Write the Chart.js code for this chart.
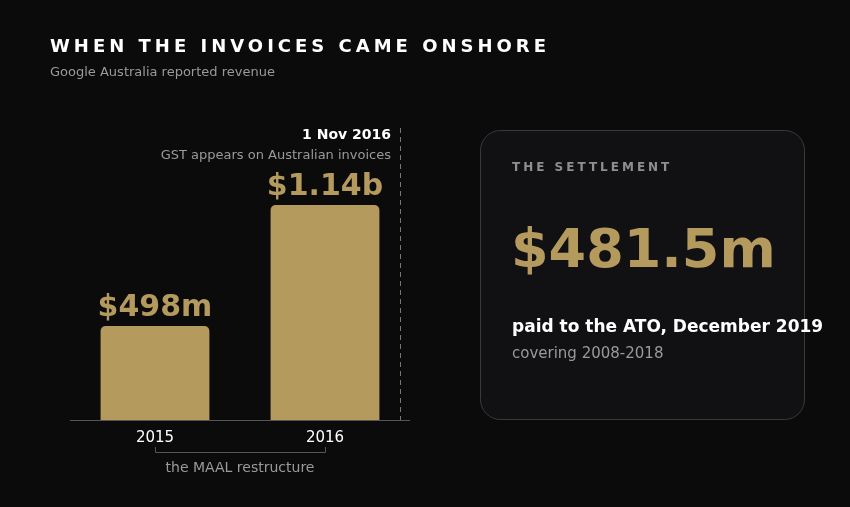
<!DOCTYPE html>
<html><head><meta charset="utf-8">
<script src="https://cdn.jsdelivr.net/npm/chart.js@4"></script>
<style>html,body{margin:0;background:#0b0b0b;}#w{width:850px;height:507px;position:relative}</style>
</head><body><div id="w"><canvas id="c"></canvas></div>
<script>
const categories = ["2015", "2016"];
const revenue = [498, 1140];
const valueLabels = ["$498m", "$1.14b"];
const gold = "#b59a5e";
const F = "'DejaVu Sans', sans-serif";

const overlay = {
  id: "overlay",
  afterDatasetsDraw(chart) {
    const ctx = chart.ctx, a = chart.chartArea, x = chart.scales.x;
    const meta = chart.getDatasetMeta(0);
    ctx.save();
    // title
    ctx.textBaseline = "alphabetic";
    ctx.fillStyle = "#ffffff";
    ctx.font = "bold 18px " + F;
    ctx.letterSpacing = "4px";
    ctx.textAlign = "left";
    ctx.fillText("WHEN THE INVOICES CAME ONSHORE", 50, 52);
    ctx.letterSpacing = "0px";
    ctx.fillStyle = "#9a9a9a";
    ctx.font = "13px " + F;
    ctx.fillText("Google Australia reported revenue", 50, 76);
    // axis line
    ctx.strokeStyle = "#555";
    ctx.lineWidth = 1;
    ctx.beginPath(); ctx.moveTo(a.left, a.bottom + 0.5); ctx.lineTo(a.right, a.bottom + 0.5); ctx.stroke();
    // value labels + category labels
    ctx.textAlign = "center";
    meta.data.forEach((b, i) => {
      ctx.fillStyle = gold;
      ctx.font = "bold 30px " + F;
      ctx.fillText(valueLabels[i], b.x, b.y - 10);
      ctx.fillStyle = "#ffffff";
      ctx.font = "15px " + F;
      ctx.fillText(categories[i], b.x, a.bottom + 22);
    });
    // bracket
    const x0 = meta.data[0].x, x1 = meta.data[1].x;
    ctx.strokeStyle = "#555";
    ctx.beginPath();
    ctx.moveTo(x0 + 0.5, 447); ctx.lineTo(x0 + 0.5, 452.5); ctx.lineTo(x1 + 0.5, 452.5); ctx.lineTo(x1 + 0.5, 447);
    ctx.stroke();
    ctx.fillStyle = "#9a9a9a";
    ctx.font = "14px " + F;
    ctx.fillText("the MAAL restructure", (x0 + x1) / 2, 472);
    // dashed line
    ctx.strokeStyle = "#777";
    ctx.setLineDash([5, 4]);
    ctx.beginPath(); ctx.moveTo(400.5, 128); ctx.lineTo(400.5, a.bottom); ctx.stroke();
    ctx.setLineDash([]);
    ctx.textAlign = "right";
    ctx.fillStyle = "#ffffff";
    ctx.font = "bold 14px " + F;
    ctx.fillText("1 Nov 2016", 391, 139);
    ctx.fillStyle = "#9a9a9a";
    ctx.font = "13px " + F;
    ctx.fillText("GST appears on Australian invoices", 391, 159);
    // card
    ctx.fillStyle = "#111114";
    ctx.strokeStyle = "#3a3a3e";
    ctx.beginPath(); ctx.roundRect(480.5, 130.5, 324, 289, 20); ctx.fill(); ctx.stroke();
    ctx.textAlign = "left";
    ctx.fillStyle = "#8f8f93";
    ctx.font = "bold 12px " + F;
    ctx.letterSpacing = "3px";
    ctx.fillText("THE SETTLEMENT", 512, 171);
    ctx.letterSpacing = "0px";
    ctx.fillStyle = gold;
    ctx.font = "bold 54px " + F;
    ctx.fillText("$481.5m", 511, 267);
    ctx.fillStyle = "#ffffff";
    ctx.font = "bold 17px " + F;
    ctx.fillText("paid to the ATO, December 2019", 512, 332);
    ctx.fillStyle = "#9a9a9a";
    ctx.font = "15px " + F;
    ctx.fillText("covering 2008-2018", 512, 358);
    ctx.restore();
  }
};

new Chart(document.getElementById("c"), {
  type: "bar",
  data: { labels: categories, datasets: [{ data: revenue, backgroundColor: gold,
    borderRadius: { topLeft: 5, topRight: 5 }, borderSkipped: "bottom",
    barPercentage: 0.64, categoryPercentage: 1 }] },
  options: {
    responsive: true, maintainAspectRatio: false, animation: false,
    layout: { padding: { left: 70, right: 440, top: 128, bottom: 87 } },
    plugins: { legend: { display: false }, tooltip: { enabled: false } },
    scales: {
      x: { display: false },
      y: { display: false, min: 0, max: 1548 }
    }
  },
  plugins: [overlay]
});
</script></body></html>
